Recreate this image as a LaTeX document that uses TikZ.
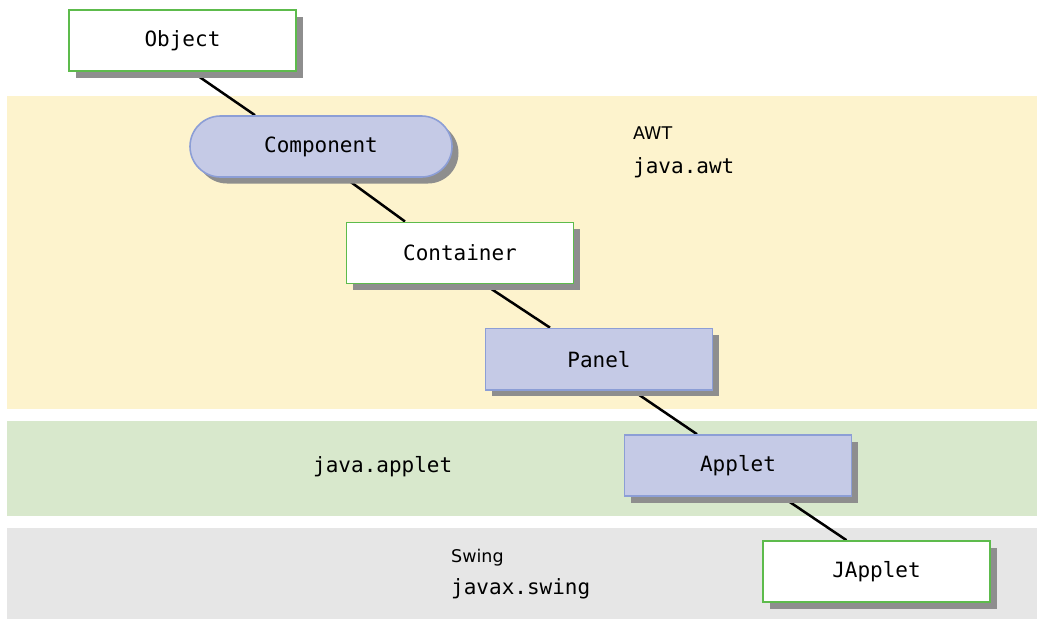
\documentclass[tikz,border=0pt]{standalone}
\usepackage{fontspec}
\setmainfont{DejaVu Sans}
\setmonofont{DejaVu Sans Mono}
\usetikzlibrary{calc,shadows}
\pgfdeclarelayer{bands}
\pgfdeclarelayer{edges}
\pgfsetlayers{bands,edges,main}
\definecolor{bandyellow}{HTML}{FDF3CD}
\definecolor{bandgreen}{HTML}{D8E8CC}
\definecolor{bandgray}{HTML}{E6E6E6}
\definecolor{lav}{HTML}{C5CAE6}
\definecolor{lavborder}{HTML}{8C9ED6}
\definecolor{grnborder}{HTML}{5DBB4C}
\definecolor{shadowgray}{HTML}{8E8E8E}
\tikzset{
  basebox/.style={minimum height=61pt, inner sep=0pt, line width=1.6pt,
    font=\fontsize{21}{25}\selectfont\ttfamily,
    drop shadow={shadow xshift=6.5pt, shadow yshift=-6.5pt, fill=shadowgray, opacity=1}},
  classbox/.style={basebox, draw=grnborder, fill=white, minimum width=227pt},
  awtbox/.style={basebox, draw=lavborder, fill=lav, minimum width=227pt},
  stadium/.style={basebox, draw=lavborder, fill=lav, minimum width=262pt, rounded corners=30.5pt},
  pkg/.style={anchor=base west, inner sep=0pt, font=\fontsize{21}{25}\selectfont\ttfamily},
  lib/.style={anchor=base west, inner sep=0pt, font=\fontsize{17.5}{21}\selectfont},
  edge/.style={line width=2.5pt, draw=black}
}
\begin{document}
\begin{tikzpicture}[x=1pt,y=-1pt]
\useasboundingbox (0,0) rectangle (1037,619);
\begin{pgfonlayer}{bands}
  \fill[bandyellow] (7,96) rectangle (1037,409);
  \fill[bandgreen] (7,421) rectangle (1037,516);
  \fill[bandgray] (7,528) rectangle (1037,619);
\end{pgfonlayer}

\node[classbox] (object) at (182.5,40.5) {Object};
\node[stadium] (component) at (321,146.5) {Component};
\node[classbox] (container) at (460,252.8) {Container};
\node[awtbox, minimum height=61.5pt] (panel) at (599,359.2) {Panel};
\node[awtbox] (applet) at (738,465.5) {Applet};
\node[classbox] (japplet) at (876.5,571.5) {JApplet};

\node[lib] (awt) at (633,139) {AWT};
\node[pkg] (javaawt) at (633,173) {java.awt};
\node[pkg] (javaapplet) at (313,472) {java.applet};
\node[lib] (swing) at (451,562) {Swing};
\node[pkg] (javaxswing) at (451,594) {javax.swing};

\begin{pgfonlayer}{edges}
  \draw[edge] ($(object.south)+(9.5,0)$) -- ($(component.north)+(-66,0)$);
  \draw[edge] ($(component.south)+(24,0)$) -- ($(container.north)+(-55,0)$);
  \draw[edge] ($(container.south)+(24,0)$) -- ($(panel.north)+(-49,0)$);
  \draw[edge] ($(panel.south)+(34,0)$) -- ($(applet.north)+(-41,0)$);
  \draw[edge] ($(applet.south)+(44,0)$) -- ($(japplet.north)+(-30,0)$);
\end{pgfonlayer}
\end{tikzpicture}
\end{document}
